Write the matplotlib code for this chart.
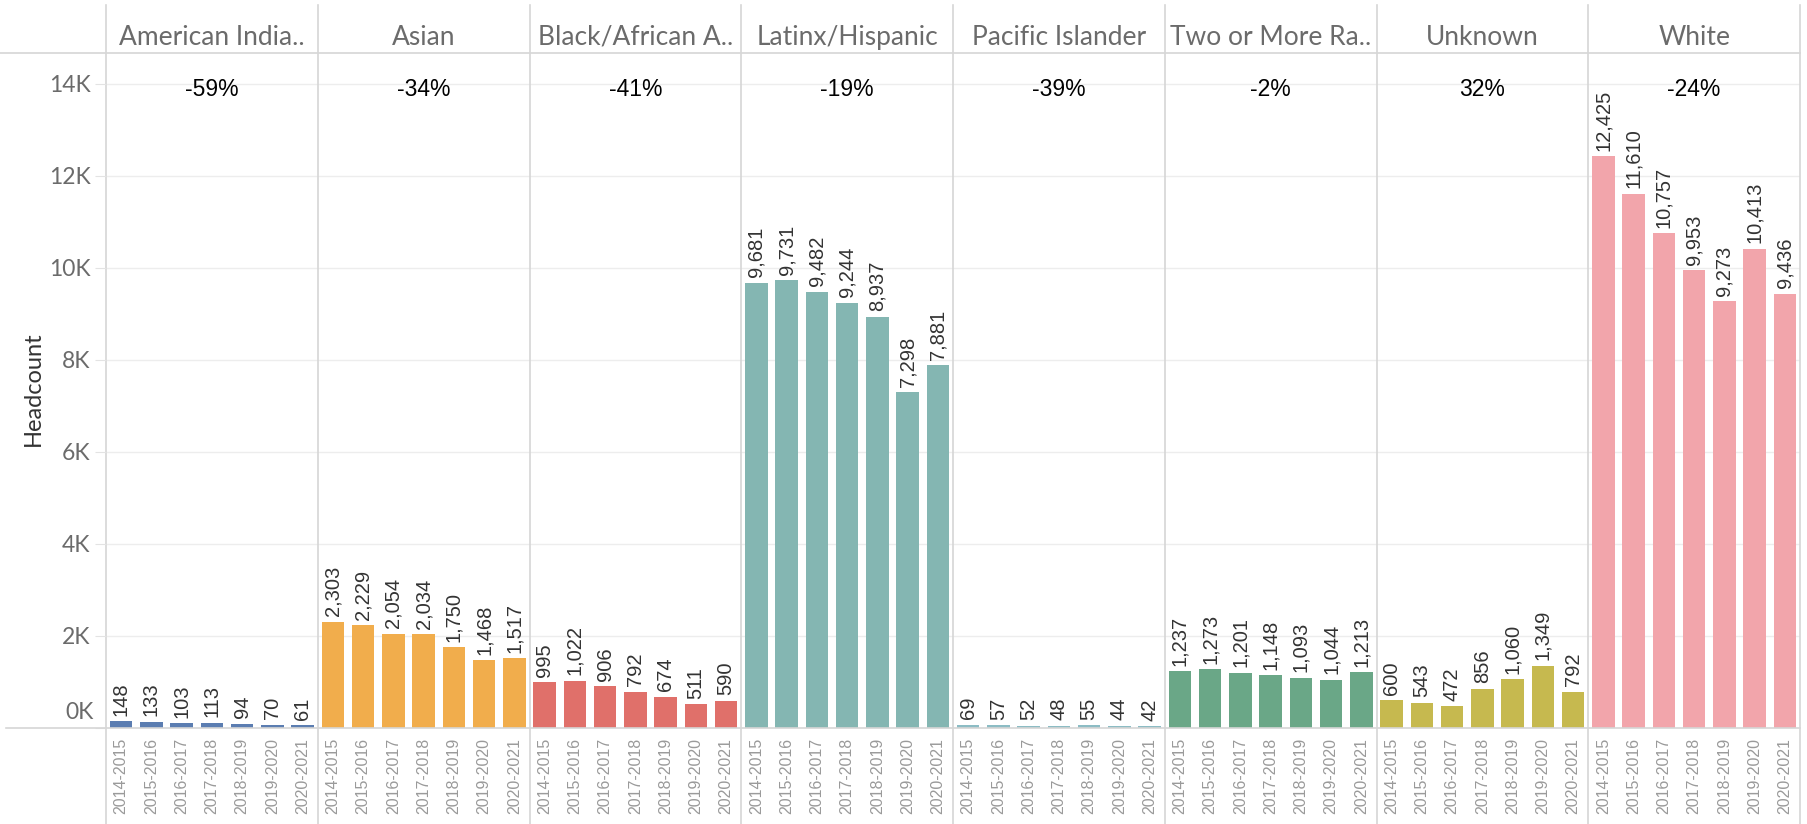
import numpy as np
import matplotlib
matplotlib.use("Agg")
import matplotlib.pyplot as plt
from matplotlib.lines import Line2D
from matplotlib.ticker import FuncFormatter, MultipleLocator

# data
groups = ["American India..", "Asian", "Black/African A..", "Latinx/Hispanic",
          "Pacific Islander", "Two or More Ra..", "Unknown", "White"]
years = ["2014-2015", "2015-2016", "2016-2017", "2017-2018",
         "2018-2019", "2019-2020", "2020-2021"]
american_indian = [148, 133, 103, 113, 94, 70, 61]
asian = [2303, 2229, 2054, 2034, 1750, 1468, 1517]
black = [995, 1022, 906, 792, 674, 511, 590]
latinx = [9681, 9731, 9482, 9244, 8937, 7298, 7881]
pacific = [69, 57, 52, 48, 55, 44, 42]
two_or_more = [1237, 1273, 1201, 1148, 1093, 1044, 1213]
unknown = [600, 543, 472, 856, 1060, 1349, 792]
white = [12425, 11610, 10757, 9953, 9273, 10413, 9436]
series = [american_indian, asian, black, latinx, pacific, two_or_more, unknown, white]
colors = ["#5b7db1", "#f1ad4c", "#e0706a", "#84b6b2",
          "#8cbcc4", "#6aa787", "#c6b94f", "#f2a5ab"]

W, H = 1807, 824
fig = plt.figure(figsize=(W / 100, H / 100), dpi=100)
ax = fig.add_axes([106 / W, 96 / H, 1694 / W, 668 / H])

n = len(years)
line_col = "#d6d6d6"

# gridlines first so bars sit on top
for v in range(0, 15000, 2000):
    ax.axhline(v, color="#ededed", lw=1, zorder=0)

xt, xl = [], []
for i, (vals, c) in enumerate(zip(series, colors)):
    x = np.arange(n) + i * n
    ax.bar(x, vals, width=0.75, color=c, zorder=2)
    for xi, v in zip(x, vals):
        ax.annotate(f"{v:,}", (xi, v), xytext=(0, 4), textcoords="offset points",
                    rotation=90, ha="center", va="bottom", fontsize=14.5,
                    color="#333333", family="Liberation Sans")
    pct = (vals[-1] - vals[0]) / vals[0] * 100
    ax.text(i * n + (n - 1) / 2, 13880, f"{pct:.0f}%", ha="center", va="center",
            fontsize=16.5, color="black", family="Liberation Sans")
    ax.text(i * n + (n - 1) / 2, 1.034, groups[i], transform=ax.get_xaxis_transform(),
            ha="center", va="center", fontsize=19, color="#6b6b6b",
            family="Lato", clip_on=False)
    xt.extend(x)
    xl.extend(years)

# panel separators running through header and axis area
for i in range(len(groups) + 1):
    ax.axvline(i * n - 0.5, ymin=-0.144, ymax=1.082, color=line_col, lw=1.2,
               clip_on=False, zorder=1)

ax.set_xlim(-0.5, len(groups) * n - 0.5)
ax.set_ylim(0, 14520)
for s in ax.spines.values():
    s.set_visible(False)

ax.set_xticks(xt)
ax.set_xticklabels(xl, rotation=90, fontsize=11.5, color="#9a9a9a",
                   family="Liberation Sans")
ax.tick_params(axis="x", length=0, pad=7)

ax.yaxis.set_major_locator(MultipleLocator(2000))
# the 0K label sits lifted above the baseline, drawn separately below
ax.yaxis.set_major_formatter(FuncFormatter(lambda v, p: f"{v / 1000:.0f}K" if v > 0 else ""))
ax.tick_params(axis="y", length=8, color="#e3e3e3", pad=3, labelsize=16.5,
               labelcolor="#6b6b6b", labelfontfamily="Lato")
ax.annotate("0K", xy=(0, 0), xycoords=("axes fraction", "data"),
            xytext=(-8.6, 11.5), textcoords="offset points", ha="right", va="center",
            fontsize=16.5, color="#6b6b6b", family="Lato", annotation_clip=False)

# header rule and baseline
fig.add_artist(Line2D([0, 1800 / W], [1 - 53 / H, 1 - 53 / H], color=line_col, lw=1.2))
fig.add_artist(Line2D([6 / W, 1800 / W], [96 / H, 96 / H], color=line_col, lw=1.2))

fig.text(33 / W, 1 - 389 / H, "Headcount", rotation=90, ha="center", va="center",
         fontsize=17, color="#333333", family="Lato")

fig.savefig("out.png", dpi=100)
